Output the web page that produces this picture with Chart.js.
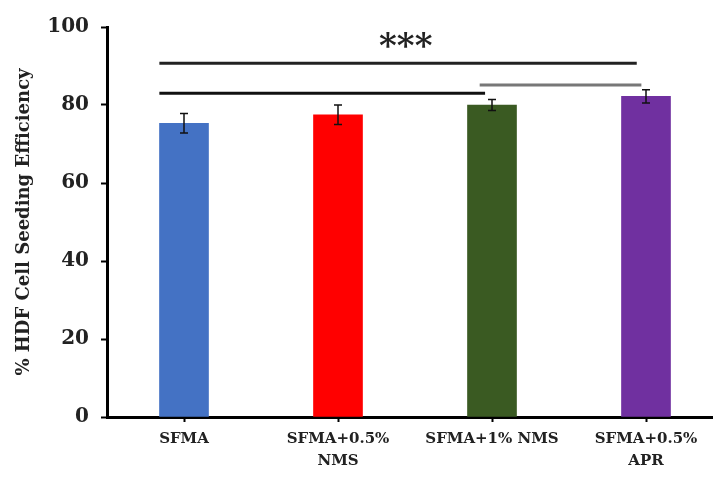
<!DOCTYPE html>
<html>
<head>
<meta charset="utf-8">
<script src="https://cdn.jsdelivr.net/npm/chart.js@4/dist/chart.umd.min.js"></script>
<style>
  html, body { margin: 0; padding: 0; background: #fff; overflow: hidden; }
  #wrap { width: 730px; height: 477px; }
</style>
</head>
<body>
<div id="wrap"><canvas id="seedingChart"></canvas></div>
<script>
// Seeding efficiency per scaffold group
const groups = [['SFMA'], ['SFMA+0.5%', 'NMS'], ['SFMA+1% NMS'], ['SFMA+0.5%', 'APR']];
const efficiency = [75.3, 77.5, 80, 82.2];
const errors = [2.5, 2.5, 1.4, 1.7];
const barColors = ['#4472C4', '#FF0000', '#3A5A22', '#7030A0'];
const yTicks = [0, 20, 40, 60, 80, 100];

// Significance brackets (category index span and height in %)
const sigFrom = [-0.16, -0.16, 1.92];
const sigTo = [2.94, 1.955, 2.97];
const sigLevel = [90.7, 83.0, 85.1];
const sigColors = ['#222', '#111', '#777'];
const sigLabel = '***';

const serif = '"DejaVu Serif", "Liberation Serif", serif';

const errorBars = {
  id: 'errorBars',
  afterDatasetsDraw(chart) {
    const { ctx, scales: { y } } = chart;
    const meta = chart.getDatasetMeta(0);
    ctx.save();
    ctx.strokeStyle = '#111';
    ctx.lineWidth = 1.5;
    meta.data.forEach((bar, i) => {
      const top = y.getPixelForValue(efficiency[i] + errors[i]);
      const bot = y.getPixelForValue(efficiency[i] - errors[i]);
      ctx.beginPath();
      ctx.moveTo(bar.x, top); ctx.lineTo(bar.x, bot);
      ctx.moveTo(bar.x - 4, top); ctx.lineTo(bar.x + 4, top);
      ctx.moveTo(bar.x - 4, bot); ctx.lineTo(bar.x + 4, bot);
      ctx.stroke();
    });
    ctx.restore();
  }
};

const significance = {
  id: 'significance',
  afterDraw(chart) {
    const { ctx, scales: { x, y } } = chart;
    ctx.save();
    ctx.lineWidth = 3;
    sigLevel.forEach((lvl, i) => {
      const py = y.getPixelForValue(lvl);
      ctx.strokeStyle = sigColors[i];
      ctx.beginPath();
      ctx.moveTo(x.getPixelForValue(sigFrom[i]), py);
      ctx.lineTo(x.getPixelForValue(sigTo[i]), py);
      ctx.stroke();
    });
    ctx.fillStyle = '#222';
    ctx.font = 'bold 34px ' + serif;
    ctx.textAlign = 'center';
    ctx.textBaseline = 'middle';
    ctx.fillText(sigLabel, x.getPixelForValue(1.44), y.getPixelForValue(94.6));
    ctx.restore();
  }
};

new Chart(document.getElementById('seedingChart'), {
  type: 'bar',
  data: {
    labels: groups,
    datasets: [{
      data: efficiency,
      backgroundColor: barColors,
      borderWidth: 0,
      barThickness: 49
    }]
  },
  options: {
    responsive: true,
    maintainAspectRatio: false,
    animation: false,
    layout: { padding: { top: 27, right: 7, left: 0, bottom: 0 } },
    plugins: { legend: { display: false }, tooltip: { enabled: false } },
    scales: {
      x: {
        afterFit: s => { s.height = 60; },
        grid: { display: true, drawOnChartArea: false, offset: false, color: '#000', tickLength: 5, tickWidth: 2 },
        border: { display: true, color: '#000', width: 3 },
        ticks: { color: '#222', font: { family: serif, size: 15, weight: 'bold', lineHeight: 1.45 }, padding: 6, maxRotation: 0, autoSkip: false }
      },
      y: {
        min: 0,
        max: 100,
        afterFit: s => { s.width = 107; },
        afterBuildTicks: s => { s.ticks = yTicks.map(v => ({ value: v })); },
        grid: { display: true, drawOnChartArea: false, color: '#000', tickLength: 6, tickWidth: 2 },
        border: { display: true, color: '#000', width: 3 },
        ticks: { color: '#222', font: { family: serif, size: 20, weight: 'bold' }, padding: 12 },
        title: {
          display: true,
          text: '% HDF Cell Seeding Efficiency',
          color: '#222',
          font: { family: serif, size: 18, weight: 'bold' },
          padding: { top: 14, bottom: 4 }
        }
      }
    }
  },
  plugins: [errorBars, significance]
});
</script>
</body>
</html>
